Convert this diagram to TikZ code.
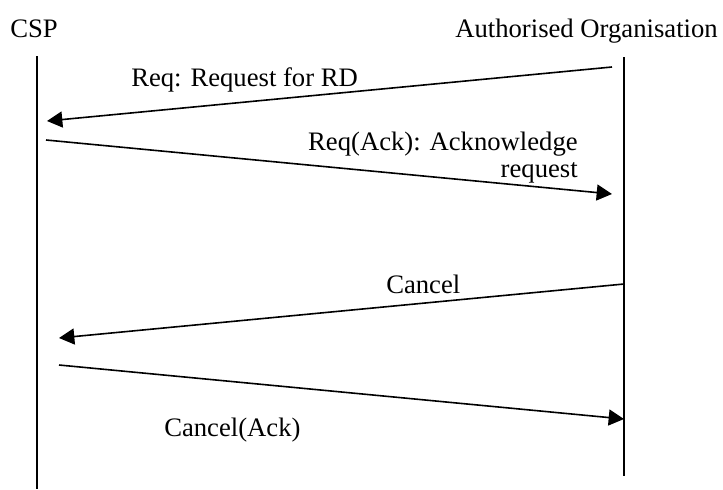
\documentclass[tikz,border=0pt]{standalone}
\usepackage{fontspec}
\setmainfont{Liberation Serif}
\usetikzlibrary{arrows.meta}

\begin{document}
\begin{tikzpicture}[x=0.75pt,y=-0.75pt,
  lbl/.style={inner sep=0pt,font=\fontsize{20}{20.25}\selectfont},
  life/.style={-,draw=black,line width=0.8pt},
  msg/.style={-{Triangle[length=11.5pt,width=12pt]},draw=black,line width=1.2pt}]
\useasboundingbox (0,0) rectangle (723,489);
\node[lbl,anchor=base west] (0) at (10,37) {CSP};
\node[lbl,anchor=base east] (1) at (718,37) {Authorised Organisation};
\coordinate (2) at (37,56);
\coordinate (3) at (37,489);
\coordinate (4) at (624,57);
\coordinate (5) at (624,476);

\coordinate (6) at (612,67);
\coordinate (7) at (47,121);
\coordinate (8) at (46,140);
\coordinate (9) at (612,194);
\coordinate (10) at (624,284);
\coordinate (11) at (59,338);
\coordinate (12) at (59,365);
\coordinate (13) at (624,419);

\node[lbl,anchor=base west] (14) at (131,86) {Req: Request for RD};
\node[lbl,anchor=base east,align=right] (15) at (578,177) {Req(Ack): Acknowledge\\request};
\node[lbl,anchor=base west] (16) at (386,293) {Cancel};
\node[lbl,anchor=base west] (17) at (164,436) {Cancel(Ack)};

\path (2) edge[life] node {} (3);
\path (4) edge[life] node {} (5);
\path (6) edge[msg] node {} (7);
\path (8) edge[msg] node {} (9);
\path (10) edge[msg] node {} (11);
\path (12) edge[msg] node {} (13);
\end{tikzpicture}
\end{document}
